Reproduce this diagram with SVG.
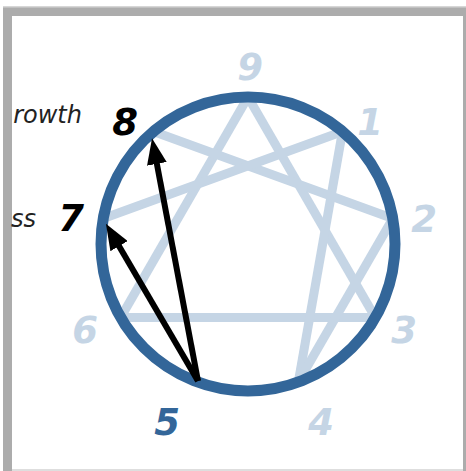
<svg xmlns="http://www.w3.org/2000/svg" width="466" height="471" viewBox="0 0 466 471">
  <style>
    .lite { stroke: #c5d5e5; stroke-width: 9; fill: none; }
    .ring { stroke: #336699; stroke-width: 11; fill: none; }
    .arrow { stroke: #000; stroke-width: 6; fill: none; marker-end: url(#head); }
    .num { font-family: "DejaVu Sans", "Liberation Sans", sans-serif; font-weight: bold; font-style: italic; font-size: 37px; text-anchor: middle; }
    .faint { fill: #c5d5e5; }
    .word { font-family: "DejaVu Sans", sans-serif; font-style: italic; font-size: 24px; fill: #222; text-anchor: end; }
  </style>
  <defs>
    <marker id="head" markerUnits="userSpaceOnUse" markerWidth="26" markerHeight="20" viewBox="0 0 26 20" refX="10" refY="10" orient="auto">
      <path d="M0,0 L26,10 L0,20 z" fill="#000"/>
    </marker>
  </defs>
  <g id="frame">
    <rect x="3" y="7" width="463" height="464" fill="#acacac"/>
    <rect x="3" y="6" width="463" height="1.5" fill="#d6d6d6"/>
    <rect x="12" y="16" width="451" height="453" fill="#ffffff"/>
    <rect x="12" y="469" width="451" height="2" fill="#dedede"/>
  </g>
  <g id="labels-left">
    <text class="word" x="82" y="123">rowth</text>
    <text class="word" x="36" y="227">ss</text>
  </g>
  <g id="connectors">
    <g id="light-lines">
      <line class="lite" x1="248" y1="97" x2="375.3" y2="317.5"/>
      <line class="lite" x1="375.3" y1="317.5" x2="120.7" y2="317.5"/>
      <line class="lite" x1="120.7" y1="317.5" x2="248" y2="97"/>
      <line class="lite" x1="342.5" y1="131.4" x2="298.3" y2="382.1"/>
      <line class="lite" x1="298.3" y1="382.1" x2="392.8" y2="218.5"/>
      <line class="lite" x1="392.8" y1="218.5" x2="153.5" y2="131.4"/>
      <line class="lite" x1="103.2" y1="218.5" x2="342.5" y2="131.4"/>
    </g>
  </g>
  <g id="circle">
    <circle class="ring" cx="248" cy="244" r="147"/>
  </g>
  <g id="arrows">
    <line class="arrow" x1="198" y1="381" x2="155" y2="154"/>
    <line class="arrow" x1="198" y1="381" x2="114" y2="237.5"/>
  </g>
  <g id="n9"><text class="num faint" x="250" y="80">9</text></g>
  <g id="n1"><text class="num faint" x="370" y="135">1</text></g>
  <g id="n2"><text class="num faint" x="424" y="232">2</text></g>
  <g id="n3"><text class="num faint" x="404" y="343">3</text></g>
  <g id="n4"><text class="num faint" x="321" y="435">4</text></g>
  <g id="n5"><text class="num" fill="#336699" x="167" y="435">5</text></g>
  <g id="n6"><text class="num faint" x="85" y="343">6</text></g>
  <g id="n7"><text class="num" fill="#000" x="71" y="231">7</text></g>
  <g id="n8"><text class="num" fill="#000" x="125" y="135">8</text></g>
</svg>
